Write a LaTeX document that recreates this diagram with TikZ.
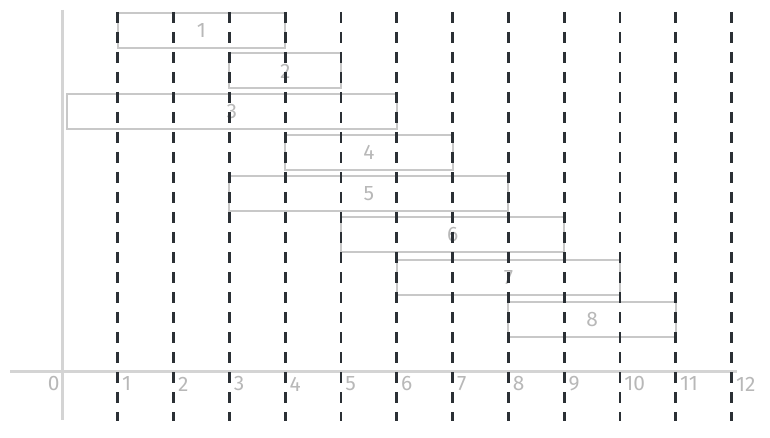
\documentclass[tikz,border=0pt]{standalone}
\usepackage{fontspec}
\setmainfont{Fira Sans}
\definecolor{boxgray}{HTML}{C8C8C8}
\definecolor{textgray}{HTML}{B8B8B8}
\definecolor{axisgray}{HTML}{D4D4D4}
\definecolor{dashdark}{HTML}{2B3035}

\tikzstyle{interval}=[rectangle,draw=boxgray,line width=1bp,inner sep=0pt,minimum height=17.5bp,text=textgray,font=\fontsize{10.5}{10.5}\selectfont]
\tikzstyle{tick}=[anchor=west,inner sep=0pt,text=textgray,font=\fontsize{10.5}{10.5}\selectfont]
\tikzstyle{sep}=[draw=dashdark,line width=1.4bp,dash pattern=on 5.5bp off 4.5bp]

\begin{document}
\begin{tikzpicture}[x=0.5bp,y=-0.5bp]
  \useasboundingbox (0,0) rectangle (770,438);

  % axes
  \coordinate (ytop) at (62,10);
  \coordinate (ybot) at (62,420);
  \coordinate (xleft) at (10,372);
  \coordinate (xright) at (737,372);
  \draw[axisgray,line width=1.5bp] (ytop) -- (ybot);
  \draw[axisgray,line width=1.5bp] (xleft) -- (xright);

  % intervals
  \foreach \n/\s/\e/\y in {1/1/4/30.5, 2/3/5/71, 3/0.09/6/111.5, 4/4/7/152.5,
                           5/3/8/193.5, 6/5/9/235, 7/6/10/277.5, 8/8/11/319.5}{
    \pgfmathsetmacro\w{27.9*(\e-\s)}
    \node[interval,minimum width=\w bp] (box\n) at ({62+55.8*(\s+\e)/2},\y) {\n};
  }

  % time lines
  \node[tick,anchor=east] (lab0) at (60,384) {0};
  \foreach \k in {1,...,12}{
    \coordinate (top\k) at ({62+55.8*\k},12);
    \coordinate (bot\k) at ({62+55.8*\k},421);
    \draw[sep] (top\k) -- (bot\k);
    \node[tick] (lab\k) at ({62+55.8*\k+4},384) {\k};
  }
\end{tikzpicture}
\end{document}
